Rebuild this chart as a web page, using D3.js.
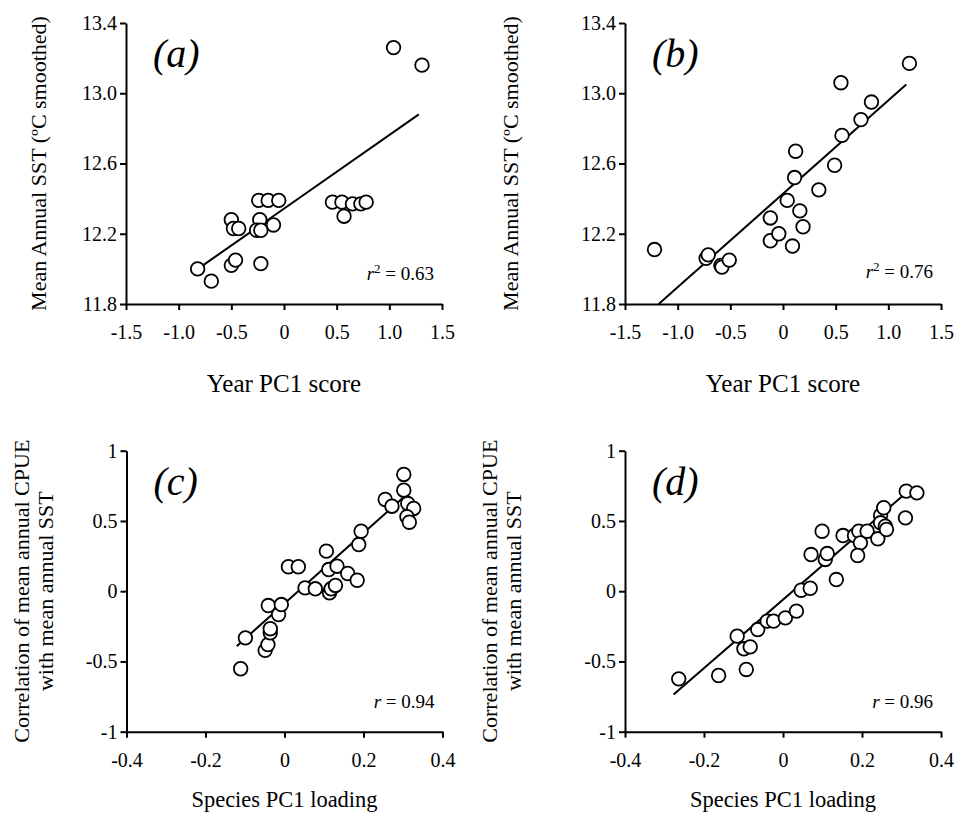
<!DOCTYPE html>
<html>
<head>
<meta charset="utf-8">
<script src="https://cdn.jsdelivr.net/npm/d3@7"></script>
<style>
  body { margin: 0; background: #fff; }
  .axis path, .axis line { stroke: #000; stroke-width: 2; }
</style>
</head>
<body>
<div id="chart"></div>
<script>
// Four scatter panels (a)-(d) with fitted lines
const serif = "'Liberation Serif', 'Times New Roman', Times, serif";

// (a) mean annual SST vs year PC1 score
const pointsA = [
  [1.04, 13.26], [1.31, 13.16], [-0.82, 12.00], [-0.69, 11.93], [-0.50, 12.02],
  [-0.46, 12.05], [-0.22, 12.03], [-0.50, 12.28], [-0.48, 12.23], [-0.43, 12.23],
  [-0.24, 12.39], [-0.15, 12.39], [-0.05, 12.39], [-0.23, 12.28], [-0.26, 12.22],
  [-0.22, 12.22], [-0.10, 12.25], [0.46, 12.38], [0.55, 12.38], [0.65, 12.37],
  [0.57, 12.30], [0.73, 12.37], [0.78, 12.38]
];
const fitA = [[-0.77, 12.02], [1.28, 12.88]];

// (b)
const pointsB = [
  [-1.22, 12.11], [-0.73, 12.06], [-0.71, 12.08], [-0.59, 12.02], [-0.58, 12.01],
  [-0.51, 12.05], [-0.12, 12.16], [-0.12, 12.29], [-0.04, 12.20], [0.04, 12.39],
  [0.09, 12.13], [0.16, 12.33], [0.19, 12.24], [0.11, 12.52], [0.12, 12.67],
  [0.34, 12.45], [0.49, 12.59], [0.56, 12.76], [0.55, 13.06], [0.74, 12.85],
  [0.84, 12.95], [1.20, 13.17]
];
const fitB = [[-1.18, 11.8], [1.17, 13.05]];

// (c) correlation vs species PC1 loading
const pointsC = [
  [-0.111, -0.552], [-0.099, -0.332], [-0.049, -0.421], [-0.042, -0.380], [-0.036, -0.296],
  [-0.036, -0.267], [-0.015, -0.166], [-0.041, -0.102], [-0.008, -0.095], [0.010, 0.174],
  [0.035, 0.174], [0.052, 0.024], [0.078, 0.017], [0.106, 0.285], [0.112, 0.154],
  [0.114, -0.011], [0.118, 0.017], [0.129, 0.041], [0.133, 0.178], [0.160, 0.126],
  [0.184, 0.078], [0.188, 0.332], [0.194, 0.427], [0.255, 0.653], [0.272, 0.605],
  [0.302, 0.831], [0.302, 0.719], [0.312, 0.624], [0.327, 0.589], [0.310, 0.530],
  [0.316, 0.491]
];
const fitC = [[-0.121, -0.391], [0.31, 0.69]];

// (d)
const pointsD = [
  [-0.264, -0.624], [-0.163, -0.600], [-0.116, -0.320], [-0.099, -0.410], [-0.083, -0.396],
  [-0.093, -0.557], [-0.064, -0.273], [-0.040, -0.213], [-0.024, -0.213], [0.006, -0.190],
  [0.034, -0.142], [0.046, 0.007], [0.069, 0.021], [0.071, 0.261], [0.099, 0.427],
  [0.107, 0.226], [0.112, 0.268], [0.135, 0.083], [0.152, 0.396], [0.181, 0.396],
  [0.192, 0.427], [0.196, 0.344], [0.189, 0.254], [0.213, 0.427], [0.240, 0.373],
  [0.247, 0.539], [0.255, 0.594], [0.247, 0.487], [0.259, 0.463], [0.262, 0.439],
  [0.312, 0.712], [0.339, 0.700], [0.310, 0.522]
];
const fitD = [[-0.277, -0.735], [0.32, 0.72]];

// ticks
const sstTicks = [11.8, 12.2, 12.6, 13.0, 13.4];
const sstLabels = ["11.8", "12.2", "12.6", "13.0", "13.4"];
const scoreTicks = [-1.5, -1.0, -0.5, 0, 0.5, 1.0, 1.5];
const scoreLabels = ["-1.5", "-1.0", "-0.5", "0", "0.5", "1.0", "1.5"];
const corrTicks = [-1, -0.5, 0, 0.5, 1];
const corrLabels = ["-1", "-0.5", "0", "0.5", "1"];
const loadTicks = [-0.4, -0.2, 0, 0.2, 0.4];
const loadLabels = ["-0.4", "-0.2", "0", "0.2", "0.4"];

const plotW = 316, plotH = 281;

const svg = d3.select("#chart")
  .append("svg")
  .attr("width", 958)
  .attr("height", 821)
  .attr("font-family", serif);

const panels = [
  { left: 126, top: 23, pts: pointsA, fit: fitA, xDom: [-1.5, 1.5], yDom: [11.8, 13.4],
    xT: scoreTicks, xL: scoreLabels, yT: sstTicks, yL: sstLabels,
    tag: "(a)", stat: "r", sup: "2", val: "0.63", statY: 280,
    yTitle: ["Mean Annual SST (\u00BAC smoothed)"], yTitleX: [46],
    xTitle: "Year PC1 score", xTitleY: 392, xTitleSize: 25 },
  { left: 625, top: 23, pts: pointsB, fit: fitB, xDom: [-1.5, 1.5], yDom: [11.8, 13.4],
    xT: scoreTicks, xL: scoreLabels, yT: sstTicks, yL: sstLabels,
    tag: "(b)", stat: "r", sup: "2", val: "0.76", statY: 278,
    yTitle: ["Mean Annual SST (\u00BAC smoothed)"], yTitleX: [518],
    xTitle: "Year PC1 score", xTitleY: 392, xTitleSize: 25 },
  { left: 126.5, top: 450.7, pts: pointsC, fit: fitC, xDom: [-0.4, 0.4], yDom: [-1, 1],
    xT: loadTicks, xL: loadLabels, yT: corrTicks, yL: corrLabels,
    tag: "(c)", stat: "r", sup: null, val: "0.94", statY: 708,
    yTitle: ["Correlation of mean annual CPUE", "with mean annual SST"], yTitleX: [29, 53],
    xTitle: "Species PC1 loading", xTitleY: 807, xTitleSize: 22.5 },
  { left: 625, top: 450.7, pts: pointsD, fit: fitD, xDom: [-0.4, 0.4], yDom: [-1, 1],
    xT: loadTicks, xL: loadLabels, yT: corrTicks, yL: corrLabels,
    tag: "(d)", stat: "r", sup: null, val: "0.96", statY: 708,
    yTitle: ["Correlation of mean annual CPUE", "with mean annual SST"], yTitleX: [497, 521],
    xTitle: "Species PC1 loading", xTitleY: 807, xTitleSize: 22.5 }
];

panels.forEach(drawPanel);

function drawPanel(p) {
  const x = d3.scaleLinear().domain(p.xDom).range([p.left, p.left + plotW]);
  const y = d3.scaleLinear().domain(p.yDom).range([p.top + plotH, p.top]);
  const g = svg.append("g");

  // axes
  g.append("g")
    .attr("class", "axis")
    .attr("transform", `translate(0,${p.top + plotH})`)
    .call(d3.axisBottom(x).tickValues(p.xT).tickFormat((d, i) => p.xL[i])
      .tickSize(6).tickSizeOuter(0).tickPadding(15))
    .attr("font-family", serif)
    .attr("font-size", 20);

  g.append("g")
    .attr("class", "axis")
    .attr("transform", `translate(${p.left},0)`)
    .call(d3.axisLeft(y).tickValues(p.yT).tickFormat((d, i) => p.yL[i])
      .tickSize(6).tickSizeOuter(0).tickPadding(3))
    .attr("font-family", serif)
    .attr("font-size", 20);

  // fitted line
  g.append("path")
    .attr("fill", "none")
    .attr("stroke", "#000")
    .attr("stroke-width", 2)
    .attr("d", d3.line().x(d => x(d[0])).y(d => y(d[1]))(p.fit));

  // points
  g.selectAll("circle")
    .data(p.pts)
    .enter()
    .append("circle")
    .attr("cx", d => x(d[0]))
    .attr("cy", d => y(d[1]))
    .attr("r", 6.8)
    .attr("fill", "#fff")
    .attr("stroke", "#000")
    .attr("stroke-width", 1.8);

  // panel tag
  g.append("text")
    .attr("x", p.left + 27)
    .attr("y", p.top + 44)
    .attr("font-size", 40)
    .attr("font-style", "italic")
    .text(p.tag);

  // statistic
  const st = g.append("text")
    .attr("x", p.left + plotW - 8)
    .attr("y", p.statY)
    .attr("text-anchor", "end")
    .attr("font-size", 19);
  st.append("tspan").attr("font-style", "italic").text(p.stat);
  if (p.sup) {
    st.append("tspan").attr("dy", -7).attr("font-size", 13).text(p.sup);
    st.append("tspan").attr("dy", 7).text(" = " + p.val);
  } else {
    st.append("tspan").text(" = " + p.val);
  }

  // axis titles
  p.yTitle.forEach((t, i) => {
    g.append("text")
      .attr("transform", `translate(${p.yTitleX[i]},${p.top + plotH / 2}) rotate(-90)`)
      .attr("text-anchor", "middle")
      .attr("font-size", 22)
      .text(t);
  });

  g.append("text")
    .attr("x", p.left + plotW / 2)
    .attr("y", p.xTitleY)
    .attr("text-anchor", "middle")
    .attr("font-size", p.xTitleSize)
    .text(p.xTitle);
}
</script>
</body>
</html>
